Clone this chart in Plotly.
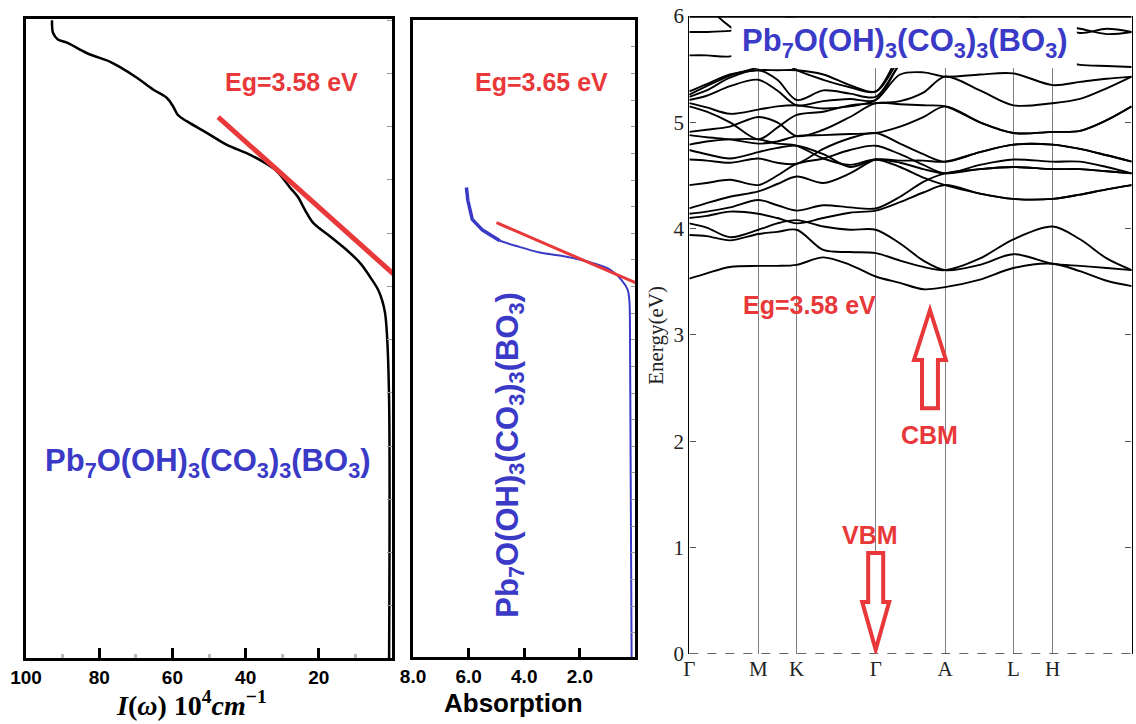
import plotly.graph_objects as go

# ---------------- data ----------------
# Panel 1: I(omega) curve (x: I in 1e4 cm^-1, y: energy-like scale)
abs_I = [92.9, 92.6, 91.3, 88.8, 83.3, 77.0, 74.3, 69.7, 65.3, 61.5, 59.8, 58.5, 56.0, 50.5, 45.1,
         39.6, 35.2, 31.4, 27.9, 25.7, 23.8, 21.6, 16.9, 12.3, 8.7, 6.0, 3.8, 2.7, 1.9, 1.4, 0.8, 0.8]
abs_E = [5.95, 5.83, 5.77, 5.74, 5.64, 5.56, 5.51, 5.41, 5.30, 5.22, 5.14, 5.06, 5.00, 4.89, 4.78,
         4.70, 4.62, 4.53, 4.38, 4.29, 4.17, 4.05, 3.92, 3.79, 3.67, 3.54, 3.42, 3.32, 3.20, 3.01, 2.38, -0.04]
fit1_I = [47.5, -1.6]
fit1_E = [5.04, 3.53]

# Panel 2: absorption curve
uv_thick_A = [6.08, 6.03, 5.87, 5.50, 4.88]
uv_thick_E = [4.38, 4.26, 4.08, 3.98, 3.88]
uv_thin_A = [4.88, 4.28, 3.44, 2.48, 1.53, 0.92, 0.50, 0.28, 0.22, 0.20, 0.14]
uv_thin_E = [3.88, 3.83, 3.77, 3.73, 3.67, 3.61, 3.51, 3.42, 3.32, 3.14, -0.03]
fit2_A = [5.0, -0.14]
fit2_E = [4.05, 3.47]

# Panel 3: band structure
hs_k = [0, 0.1560, 0.2427, 0.4213, 0.5780, 0.7325, 0.8214, 1.0]
hs_labels = ["Γ", "M", "K", "Γ", "A", "L", "H", "A"]
k_grid = [0, 0.0392, 0.0919, 0.1560, 0.1989, 0.2427, 0.3029, 0.3632, 0.4213,
          0.4763, 0.5290, 0.5780, 0.6571, 0.7325, 0.8214, 0.8832, 0.9435, 1.0]

band01 = [3.53, 3.58, 3.64, 3.65, 3.65, 3.66, 3.73, 3.66, 3.55, 3.49, 3.43, 3.45, 3.52, 3.63, 3.67, 3.60, 3.51, 3.46]
band02 = [3.94, 3.93, 3.89, 3.95, 3.97, 3.99, 3.80, 3.78, 3.77, 3.70, 3.64, 3.61, 3.72, 3.90, 4.02, 3.90, 3.72, 3.61]
band03 = [4.05, 4.01, 3.92, 3.99, 4.05, 4.08, 4.02, 3.99, 3.99, 3.86, 3.70, 3.61, 3.66, 3.76, 3.67, 3.65, 3.63, 3.61]
band04 = [4.10, 4.12, 4.16, 4.14, 4.10, 4.05, 4.10, 4.15, 4.17, 4.25, 4.34, 4.41, 4.33, 4.28, 4.28, 4.32, 4.37, 4.41]
band05 = [4.14, 4.16, 4.20, 4.27, 4.22, 4.17, 4.22, 4.20, 4.19, 4.30, 4.44, 4.52, 4.56, 4.58, 4.56, 4.56, 4.54, 4.52]
band06 = [4.19, 4.24, 4.30, 4.35, 4.42, 4.49, 4.43, 4.52, 4.65, 4.64, 4.64, 4.63, 4.72, 4.79, 4.79, 4.75, 4.69, 4.63]
band07 = [4.41, 4.43, 4.46, 4.41, 4.50, 4.61, 4.66, 4.74, 4.78, 4.70, 4.60, 4.52, 4.60, 4.65, 4.63, 4.63, 4.58, 4.52]
band08 = [4.65, 4.64, 4.62, 4.66, 4.62, 4.61, 4.75, 4.85, 4.90, 4.80, 4.70, 4.63, 4.72, 4.79, 4.79, 4.75, 4.69, 4.63]
band09 = [4.74, 4.70, 4.66, 4.72, 4.76, 4.78, 4.70, 4.58, 4.65, 4.62, 4.56, 4.52, 4.56, 4.58, 4.56, 4.56, 4.54, 4.52]
band10 = [4.79, 4.82, 4.84, 4.84, 4.80, 4.78, 4.66, 4.60, 4.65, 4.58, 4.48, 4.41, 4.33, 4.28, 4.28, 4.32, 4.37, 4.41]
band11 = [4.88, 4.86, 4.84, 4.80, 4.82, 4.87, 4.88, 4.89, 4.90, 4.96, 5.05, 5.15, 5.00, 4.90, 4.91, 4.92, 5.02, 5.15]
band12 = [4.91, 4.93, 4.96, 5.05, 5.00, 4.87, 4.93, 5.05, 5.18, 5.17, 5.16, 5.15, 5.00, 4.90, 4.91, 4.92, 5.02, 5.15]
band13 = [5.15, 5.10, 5.00, 4.84, 4.95, 5.07, 5.10, 5.16, 5.18, 5.20, 5.28, 5.43, 5.30, 5.16, 5.18, 5.22, 5.32, 5.43]
band14 = [5.18, 5.14, 5.08, 5.12, 5.15, 5.16, 5.13, 5.15, 5.21, 5.45, 5.47, 5.43, 5.45, 5.46, 5.35, 5.38, 5.41, 5.43]
band15 = [5.21, 5.25, 5.34, 5.40, 5.30, 5.16, 5.20, 5.22, 5.21, 5.55, 5.75, 5.85, 5.80, 5.70, 5.60, 5.54, 5.53, 5.52]
band16 = [5.24, 5.30, 5.42, 5.49, 5.40, 5.21, 5.30, 5.27, 5.24, 5.55, 5.75, 5.90, 6.00, 6.10, 6.10, 6.10, 6.10, 6.10]
band17 = [5.29, 5.36, 5.45, 5.49, 5.49, 5.49, 5.45, 5.35, 5.29, 5.60, 5.85, 5.95, 5.95, 5.95, 5.92, 5.88, 5.83, 5.85]
band18 = [5.26, 5.34, 5.44, 5.52, 5.60, 5.49, 5.40, 5.33, 5.29, 5.65, 5.90, 6.05, 6.05, 6.05, 6.10, 6.15, 6.15, 6.15]
band19 = [5.63, 5.63, 5.62, 5.70, 5.75, 5.80, 5.80, 5.80, 5.80, 5.85, 5.90, 5.95, 5.95, 5.95, 5.92, 5.84, 5.88, 5.85]
band20 = [5.85, 5.85, 5.86, 5.90, 5.95, 6.00, 6.00, 6.00, 6.00, 6.00, 6.05, 6.10, 6.10, 6.10, 6.10, 6.10, 6.10, 6.10]
band21 = [6.30, 6.10, 5.90, 5.75, 5.70, 5.70, 5.70, 5.70, 5.70, 5.72, 5.75, 5.80, 5.85, 5.95, 6.10, 6.15, 6.20, 6.20]

bands = [band01, band02, band03, band04, band05, band06, band07, band08, band09, band10, band11,
         band12, band13, band14, band15, band16, band17, band18, band19, band20, band21]

formula = "Pb<sub>7</sub>O(OH)<sub>3</sub>(CO<sub>3</sub>)<sub>3</sub>(BO<sub>3</sub>)"

# ---------------- styling ----------------
RED = "#e8383a"
BLUE = "#3a3ac6"
SANS = "Liberation Sans"
SERIF = "Liberation Serif"

fig = go.Figure()

# Panel 1
fig.add_trace(go.Scatter(x=abs_I, y=abs_E, mode="lines", line=dict(color="black", width=2.5, shape="spline"),
                         xaxis="x", yaxis="y", hoverinfo="skip"))
fig.add_trace(go.Scatter(x=fit1_I, y=fit1_E, mode="lines", line=dict(color=RED, width=5),
                         xaxis="x", yaxis="y", hoverinfo="skip"))

# Panel 2
fig.add_trace(go.Scatter(x=uv_thick_A, y=uv_thick_E, mode="lines", line=dict(color=BLUE, width=3.5),
                         xaxis="x2", yaxis="y2", hoverinfo="skip"))
fig.add_trace(go.Scatter(x=uv_thin_A, y=uv_thin_E, mode="lines", line=dict(color=BLUE, width=2, shape="spline"),
                         xaxis="x2", yaxis="y2", hoverinfo="skip"))
fig.add_trace(go.Scatter(x=fit2_A, y=fit2_E, mode="lines", line=dict(color=RED, width=3),
                         xaxis="x2", yaxis="y2", hoverinfo="skip"))

# Panel 3 bands
for b in bands:
    fig.add_trace(go.Scatter(x=k_grid, y=b, mode="lines",
                             line=dict(color="black", width=1.9, shape="spline", smoothing=0.9),
                             xaxis="x3", yaxis="y3", hoverinfo="skip"))

# ---------------- axes ----------------
frame = dict(showline=True, linecolor="black", linewidth=3, mirror=True, zeroline=False, showgrid=False,
             automargin=False)
tickfont_b = dict(family=SANS, size=19, color="black", weight="bold")

fig.update_layout(
    width=1136, height=724, margin=dict(l=0, r=0, t=0, b=0, autoexpand=False),
    paper_bgcolor="white", plot_bgcolor="white", showlegend=False,
    xaxis=dict(domain=[0.0229, 0.3451], anchor="y", range=[100, 0], **frame,
               tickvals=[100, 80, 60, 40, 20], ticks="inside", ticklen=10, tickwidth=3, tickcolor="black",
               tickfont=tickfont_b,
               minor=dict(tickvals=[90, 70, 50, 30, 10], ticks="inside", ticklen=4, tickcolor="#bbbbbb")),
    yaxis=dict(domain=[0.0912, 0.9738], anchor="x", range=[-0.038, 5.962], **frame, side="right",
               showticklabels=False, ticks="inside", tick0=0.45, dtick=0.5, ticklen=5, tickwidth=1,
               tickcolor="#999999"),
    xaxis2=dict(domain=[0.3636, 0.5594], anchor="y2", range=[8, 0], **frame,
                tickvals=[8, 6, 4, 2], ticktext=["8.0", "6.0", "4.0", "2.0"], ticks="inside", ticklen=9,
                tickwidth=3, tickcolor="black", tickfont=tickfont_b),
    yaxis2=dict(domain=[0.0926, 0.9724], anchor="x2", range=[-0.028, 5.953], **frame, side="right",
                showticklabels=False, ticks="inside", tick0=0.2, dtick=0.25, ticklen=4, tickwidth=1,
                tickcolor="#999999"),
    xaxis3=dict(domain=[0.6068, 0.9962], anchor="y3", range=[0, 1], showline=False, zeroline=False,
                automargin=False,
                tickvals=hs_k, ticktext=hs_labels, ticks="", showgrid=True, gridcolor="#808080",
                gridwidth=1.4, tickfont=dict(family=SERIF, size=21, color="#222222")),
    yaxis3=dict(domain=[0.0967, 0.9779], anchor="x3", range=[0, 6], showline=True, linecolor="black",
                linewidth=1.4, mirror="ticks", zeroline=False, showgrid=False, automargin=False,
                tickvals=[0, 1, 2, 3, 4, 5, 6], ticks="inside", ticklen=6, tickcolor="#555555",
                tickfont=dict(family=SERIF, size=21, color="#222222")),
)

# ---------------- shapes ----------------
def arrow_path(xc, y_tip, y_base, y_tail, hw, sw):
    pts = [(xc - sw, y_tail), (xc - sw, y_base), (xc - hw, y_base), (xc, y_tip),
           (xc + hw, y_base), (xc + sw, y_base), (xc + sw, y_tail)]
    return "M " + " L ".join(f"{x},{y}" for x, y in pts) + " Z"

shapes = [
    # white box behind band-structure title
    dict(type="rect", xref="x3", yref="y3", x0=0.095, x1=0.876, y0=5.51, y1=5.985,
         fillcolor="white", line=dict(width=0), layer="above"),
    # top thick border of band panel
    dict(type="line", xref="x3", yref="y3", x0=0, x1=1, y0=6, y1=6, line=dict(color="black", width=3.5)),
    # Fermi level dashed line
    dict(type="line", xref="x3", yref="y3", x0=0, x1=1, y0=0, y1=0,
         line=dict(color="#333333", width=1.6, dash="dash")),
    # CBM arrow (hollow, pointing up)
    dict(type="path", xref="x3", yref="y3", path=arrow_path(0.544, 3.235, 2.765, 2.31, 0.036, 0.018),
         line=dict(color=RED, width=4), fillcolor="white"),
    # VBM arrow (hollow, pointing down)
    dict(type="path", xref="x3", yref="y3", path=arrow_path(0.4213, 0.04, 0.49, 0.95, 0.0305, 0.017),
         line=dict(color=RED, width=4), fillcolor="white"),
]
fig.update_layout(shapes=shapes)

# ---------------- annotations ----------------
def txt(text, x, y, xref, yref, size, color, family=SANS, weight="bold", angle=0):
    return dict(text=text, x=x, y=y, xref=xref, yref=yref, showarrow=False, textangle=angle,
                xanchor="center", yanchor="middle",
                font=dict(family=family, size=size, color=color, weight=weight))

annotations = [
    txt("Eg=3.58 eV", 27.6, 5.37, "x", "y", 25, RED),
    txt(formula, 50.3, 1.79, "x", "y", 31, BLUE),
    txt("Eg=3.65 eV", 3.37, 5.37, "x2", "y2", 25, RED),
    txt(formula, 4.52, 1.87, "x2", "y2", 31, BLUE, angle=-90),
    txt(formula, 0.488, 5.75, "x3", "y3", 31, BLUE),
    txt("Eg=3.58 eV", 0.272, 3.28, "x3", "y3", 25, RED),
    txt("CBM", 0.544, 2.06, "x3", "y3", 25, RED),
    txt("VBM", 0.408, 1.12, "x3", "y3", 25, RED),
    txt("<i>I</i>(<i>ω</i>) 10<sup>4</sup><i>cm</i><sup>−1</sup>", 0.169, 0.029, "paper", "paper", 28,
        "black", family=SERIF),
    txt("Absorption", 0.4516, 0.029, "paper", "paper", 26, "black"),
    txt("Energy(eV)", 0.578, 0.537, "paper", "paper", 21, "#222222", family=SERIF, weight="normal", angle=-90),
]
fig.update_layout(annotations=annotations)

fig.write_html("out.html", config={"displayModeBar": False},
               post_script="document.body.style.margin='0';document.body.style.padding='0';")
